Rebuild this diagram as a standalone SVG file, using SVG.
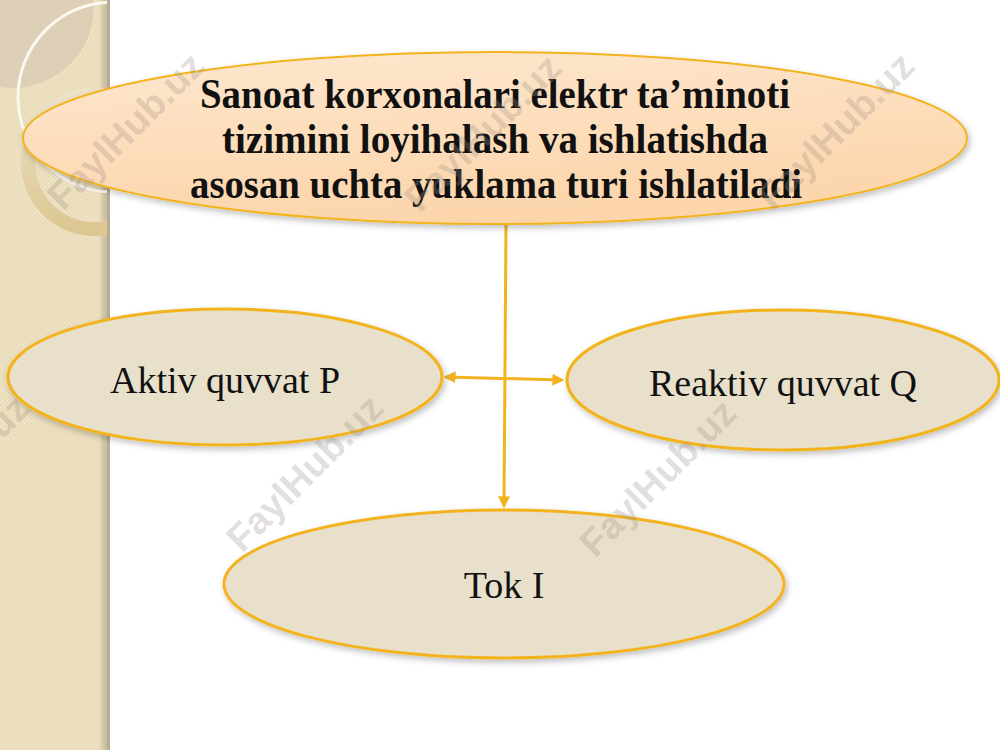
<svg xmlns="http://www.w3.org/2000/svg" width="1000" height="750" viewBox="0 0 1000 750">
<defs>
<pattern id="tex" width="4" height="4" patternUnits="userSpaceOnUse">
<rect width="4" height="4" fill="#eee2c3"/>
<rect width="2" height="2" fill="#e9dcba"/>
<rect x="2" y="2" width="2" height="2" fill="#e9dcba"/>
</pattern>
<linearGradient id="topg" x1="0" y1="0" x2="0.3" y2="1">
<stop offset="0" stop-color="#fde7cf"/>
<stop offset="1" stop-color="#fcd5ab"/>
</linearGradient>
<linearGradient id="ringg" x1="0" y1="0" x2="0" y2="1">
<stop offset="0" stop-color="#ece2c8"/>
<stop offset="1" stop-color="#dcc792"/>
</linearGradient>
<linearGradient id="band" x1="0" y1="0" x2="1" y2="0">
<stop offset="0.9" stop-color="#000" stop-opacity="0"/>
<stop offset="1" stop-color="#8a7d5a" stop-opacity="0.35"/>
</linearGradient>
<clipPath id="bandclip"><rect x="0" y="0" width="108" height="750"/></clipPath>
<filter id="sh" x="-10%" y="-10%" width="120%" height="130%">
<feDropShadow dx="2" dy="3" stdDeviation="3" flood-color="#000" flood-opacity="0.25"/>
</filter>
<marker id="ah" viewBox="0 0 10 10" refX="8" refY="5" markerWidth="4" markerHeight="4" orient="auto-start-reverse">
<path d="M0,0 L10,5 L0,10 z" fill="#f2b31f"/>
</marker>
<style>
.node{fill:#e8e0cb;stroke:#f2b31f;stroke-width:3}
.lbl{font-family:"Liberation Serif",serif;font-size:38px;fill:#111;text-anchor:middle}
.ttl{font-family:"Liberation Serif",serif;font-size:42px;font-weight:bold;fill:#111;text-anchor:middle}
.conn{stroke:#f2b31f;stroke-width:3;fill:none}
.wm{font-family:"Liberation Sans",sans-serif;font-size:38px;font-weight:bold;fill:#9a8f85;opacity:0.28;text-anchor:middle}
</style>
</defs>
<rect width="1000" height="750" fill="#ffffff"/>
<g id="background">
<rect x="0" y="0" width="110" height="750" fill="url(#tex)"/>
<rect x="0" y="0" width="110" height="750" fill="url(#band)"/>
<g clip-path="url(#bandclip)">
<circle cx="12" cy="6" r="82" fill="#d6cab3" opacity="0.75"/>
<circle cx="95" cy="162" r="67" fill="none" stroke="url(#ringg)" stroke-width="14"/>
<circle cx="113" cy="97" r="95" fill="none" stroke="#fbf8f0" stroke-width="3"/>
</g>
<rect x="107" y="0" width="3" height="750" fill="#b8ad94"/>
</g>
<g id="connectors">
<line class="conn" x1="506" y1="224" x2="504" y2="506" marker-end="url(#ah)"/>
<line class="conn" x1="446" y1="377" x2="562" y2="380" marker-start="url(#ah)" marker-end="url(#ah)"/>
</g>
<g id="top">
<ellipse cx="495" cy="138" rx="472" ry="86" fill="url(#topg)" stroke="#f2b31f" stroke-width="2" filter="url(#sh)"/>
<text class="ttl" x="495" y="108" textLength="590" lengthAdjust="spacingAndGlyphs">Sanoat korxonalari elektr ta’minoti</text>
<text class="ttl" x="495" y="153" textLength="546" lengthAdjust="spacingAndGlyphs">tizimini loyihalash va ishlatishda</text>
<text class="ttl" x="496" y="198" textLength="612" lengthAdjust="spacingAndGlyphs">asosan uchta yuklama turi ishlatiladi</text>
</g>
<g id="aktiv">
<ellipse class="node" cx="225" cy="377" rx="217" ry="68" filter="url(#sh)"/>
<text class="lbl" x="225" y="393">Aktiv quvvat P</text>
</g>
<g id="reaktiv">
<ellipse class="node" cx="783" cy="380" rx="216" ry="70" filter="url(#sh)"/>
<text class="lbl" x="783" y="396">Reaktiv quvvat Q</text>
</g>
<g id="tok">
<ellipse class="node" cx="504" cy="584" rx="280" ry="74" filter="url(#sh)"/>
<text class="lbl" x="504" y="598">Tok I</text>
</g>
<g id="watermarks">
<text class="wm" transform="translate(135,140) rotate(-45)">FaylHub.uz</text>
<text class="wm" transform="translate(492,142) rotate(-45)">FaylHub.uz</text>
<text class="wm" transform="translate(845,140) rotate(-45)">FaylHub.uz</text>
<text class="wm" transform="translate(-40,482) rotate(-45)">FaylHub.uz</text>
<text class="wm" transform="translate(314,482) rotate(-45)">FaylHub.uz</text>
<text class="wm" transform="translate(667,487) rotate(-45)">FaylHub.uz</text>
</g>
</svg>
